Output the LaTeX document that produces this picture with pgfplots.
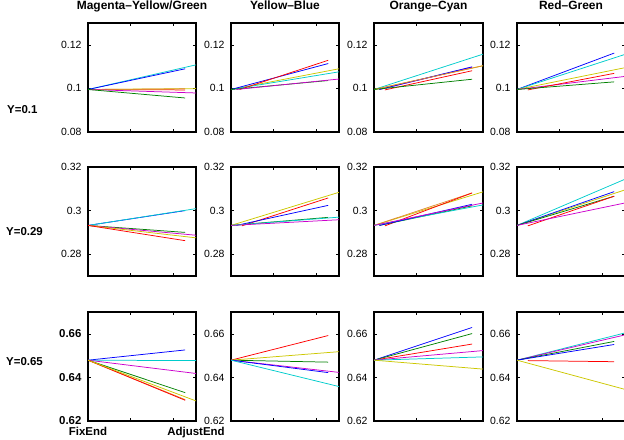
\documentclass[border=0pt]{standalone}
\usepackage{fontspec}
\setmainfont{Liberation Sans}
\usepackage{pgfplots}
\pgfplotsset{compat=1.18}

\definecolor{mb}{rgb}{0,0,1}
\definecolor{mg}{rgb}{0,0.5,0}
\definecolor{mr}{rgb}{1,0,0}
\definecolor{mc}{rgb}{0,0.8,0.8}
\definecolor{mm}{rgb}{0.8,0,0.8}
\definecolor{my}{rgb}{0.8,0.78,0}
\definecolor{mo}{HTML}{E08A2E}

\pgfplotsset{
  cell/.style={
    scale only axis, width=108bp, height=109bp, anchor=south west,
    xmin=0, xmax=1,
    xtick={0,0.39,0.79,1}, xticklabels={},
    tick align=inside, major tick length=3bp,
    axis line style={line width=1.1pt},
    tick style={black, line width=0.4pt},
    every axis plot/.append style={line width=0.75pt},
    ticklabel style={font=\fontsize{10.5}{12}\selectfont},
    yticklabel style={xshift=-3bp},
    title style={font=\fontsize{12}{14}\selectfont\bfseries, at={(0.5,1)}, anchor=base, yshift=8bp, inner sep=0pt},
  },
  r1/.style={ymin=0.08, ymax=0.13, ytick={0.08,0.1,0.12}, yticklabels={0.08,0.1,0.12}},
  r2/.style={ymin=0.27, ymax=0.32, ytick={0.28,0.3,0.32}, yticklabels={0.28,0.3,0.32}},
  r3/.style={ymin=0.62, ymax=0.67, ytick={0.62,0.64,0.66}, yticklabels={0.62,0.64,0.66}},
}

\begin{document}
\begin{tikzpicture}
\useasboundingbox (0bp,0bp) rectangle (624bp,440bp);
\clip (0bp,0bp) rectangle (624bp,440bp);

% ---------- row 1: Y=0.1 ----------
\begin{axis}[cell, r1, at={(88bp,308bp)}, title={Magenta--Yellow/Green}]
\addplot[mc] coordinates {(0,0.0995) (1,0.1108)};
\addplot[mb] coordinates {(0,0.0995) (0.9,0.1090)};
\addplot[mr] coordinates {(0,0.0995) (0.9,0.0993)};
\addplot[my] coordinates {(0,0.0995) (1,0.0999)};
\addplot[mo] coordinates {(0,0.0995) (0.9,0.0998)};
\addplot[mm] coordinates {(0,0.0995) (1,0.0979)};
\addplot[mg] coordinates {(0,0.0995) (0.9,0.0956)};
\end{axis}

\begin{axis}[cell, r1, at={(231bp,308bp)}, title={Yellow--Blue}]
\addplot[my] coordinates {(0,0.0995) (1,0.1090)};
\addplot[mc] coordinates {(0,0.0995) (1,0.1076)};
\addplot[mb] coordinates {(0,0.0995) (0.9,0.1114)};
\addplot[mr] coordinates {(0.08,0.0995) (0.9,0.1129)};
\addplot[mg] coordinates {(0,0.0995) (0.9,0.1036)};
\addplot[mm] coordinates {(0.05,0.0995) (1,0.1043)};
\end{axis}

\begin{axis}[cell, r1, at={(374bp,308bp)}, width=109bp, title={Orange--Cyan}]
\addplot[mc] coordinates {(0,0.0995) (1,0.1157)};
\addplot[my] coordinates {(0,0.0995) (1,0.1104)};
\addplot[mm] coordinates {(0.05,0.0995) (0.9,0.1097)};
\addplot[mb] coordinates {(0.05,0.0995) (0.9,0.1099)};
\addplot[mo] coordinates {(0,0.0995) (1,0.1104)};
\addplot[mr] coordinates {(0.1,0.0993) (0.9,0.1081)};
\addplot[mg] coordinates {(0,0.0995) (0.9,0.1042)};
\end{axis}

\begin{axis}[cell, r1, at={(517bp,308bp)}, title={Red--Green}]
\addplot[mb] coordinates {(0,0.0995) (0.9,0.1162)};
\addplot[mc] coordinates {(0,0.0995) (1,0.1156)};
\addplot[my] coordinates {(0,0.0995) (1,0.1095)};
\addplot[mm] coordinates {(0,0.0995) (1,0.1055)};
\addplot[mr] coordinates {(0.1,0.0993) (0.9,0.1069)};
\addplot[mg] coordinates {(0,0.0995) (0.9,0.1030)};
\end{axis}

% ---------- row 2: Y=0.29 ----------
\begin{axis}[cell, r2, at={(88bp,164bp)}]
\addplot[mb] coordinates {(0,0.2932) (0.9,0.3000)};
\addplot[mc] coordinates {(0,0.2932) (1,0.3009)};
\addplot[mg] coordinates {(0,0.2932) (0.9,0.2900)};
\addplot[mm] coordinates {(0,0.2932) (1,0.2887)};
\addplot[my] coordinates {(0,0.2932) (1,0.2875)};
\addplot[mr] coordinates {(0,0.2932) (0.9,0.2862)};
\end{axis}

\begin{axis}[cell, r2, at={(231bp,164bp)}]
\addplot[my] coordinates {(0,0.2932) (1,0.3084)};
\addplot[mr] coordinates {(0.1,0.2930) (0.9,0.3058)};
\addplot[mb] coordinates {(0.05,0.2932) (0.9,0.3024)};
\addplot[mg] coordinates {(0,0.2932) (0.9,0.2969)};
\addplot[mc] coordinates {(0,0.2932) (1,0.2970)};
\addplot[mm] coordinates {(0,0.2932) (1,0.2958)};
\end{axis}

\begin{axis}[cell, r2, at={(374bp,164bp)}, width=109bp]
\addplot[my] coordinates {(0,0.2932) (1,0.3086)};
\addplot[mo] coordinates {(0,0.2932) (0.9,0.3081)};
\addplot[mr] coordinates {(0.1,0.2930) (0.9,0.3081)};
\addplot[mg] coordinates {(0.05,0.2932) (0.9,0.3022)};
\addplot[mc] coordinates {(0,0.2932) (1,0.3026)};
\addplot[mb] coordinates {(0.05,0.2932) (0.9,0.3029)};
\addplot[mm] coordinates {(0,0.2932) (1,0.3035)};
\end{axis}

\begin{axis}[cell, r2, at={(517bp,164bp)}]
\addplot[mc] coordinates {(0,0.2932) (1,0.3144)};
\addplot[my] coordinates {(0,0.2932) (1,0.3095)};
\addplot[mb] coordinates {(0,0.2932) (0.9,0.3087)};
\addplot[mg] coordinates {(0,0.2932) (0.9,0.3066)};
\addplot[mr] coordinates {(0.1,0.2930) (0.9,0.3066)};
\addplot[mm] coordinates {(0,0.2932) (1,0.3035)};
\end{axis}

% ---------- row 3: Y=0.65 ----------
\begin{axis}[cell, r3, at={(88bp,19bp)},
  xticklabels={FixEnd,{},{},AdjustEnd},
  ticklabel style={font=\fontsize{11.5}{13}\selectfont\bfseries},
  xticklabel style={yshift=-2.5bp}]
\addplot[mb] coordinates {(0,0.6479) (0.9,0.6526)};
\addplot[mc] coordinates {(0,0.6479) (1,0.6477)};
\addplot[mm] coordinates {(0,0.6479) (1,0.6418)};
\addplot[mg] coordinates {(0,0.6479) (0.9,0.6330)};
\addplot[mo] coordinates {(0,0.6479) (0.9,0.6298)};
\addplot[mr] coordinates {(0,0.6479) (0.9,0.6295)};
\addplot[my] coordinates {(0,0.6479) (1,0.6292)};
\end{axis}

\begin{axis}[cell, r3, at={(231bp,19bp)}]
\addplot[mr] coordinates {(0,0.6479) (0.9,0.6592)};
\addplot[my] coordinates {(0,0.6479) (1,0.6518)};
\addplot[mg] coordinates {(0,0.6479) (0.9,0.6470)};
\addplot[mm] coordinates {(0,0.6479) (1,0.6423)};
\addplot[mb] coordinates {(0,0.6479) (0.9,0.6422)};
\addplot[mc] coordinates {(0,0.6479) (1,0.6358)};
\end{axis}

\begin{axis}[cell, r3, at={(374bp,19bp)}, width=109bp]
\addplot[mb] coordinates {(0,0.6479) (0.9,0.6629)};
\addplot[mg] coordinates {(0,0.6479) (0.9,0.6601)};
\addplot[mr] coordinates {(0,0.6479) (0.9,0.6553)};
\addplot[mm] coordinates {(0,0.6479) (1,0.6523)};
\addplot[mc] coordinates {(0,0.6479) (1,0.6494)};
\addplot[my] coordinates {(0,0.6479) (1,0.6438)};
\end{axis}

\begin{axis}[cell, r3, at={(517bp,19bp)}]
\addplot[mc] coordinates {(0,0.6479) (1,0.6604)};
\addplot[mm] coordinates {(0,0.6479) (1,0.6595)};
\addplot[mg] coordinates {(0,0.6479) (0.9,0.6565)};
\addplot[mb] coordinates {(0,0.6479) (0.9,0.6551)};
\addplot[mr] coordinates {(0.1,0.6477) (0.9,0.6472)};
\addplot[my] coordinates {(0,0.6479) (1,0.6345)};
\end{axis}

% row labels
\node[anchor=west, inner sep=0pt, font=\fontsize{11.5}{13}\selectfont\bfseries] at (7bp,330bp) {Y=0.1};
\node[anchor=west, inner sep=0pt, font=\fontsize{11.5}{13}\selectfont\bfseries] at (6bp,208bp) {Y=0.29};
\node[anchor=west, inner sep=0pt, font=\fontsize{11.5}{13}\selectfont\bfseries] at (6bp,78bp) {Y=0.65};
\end{tikzpicture}
\end{document}
